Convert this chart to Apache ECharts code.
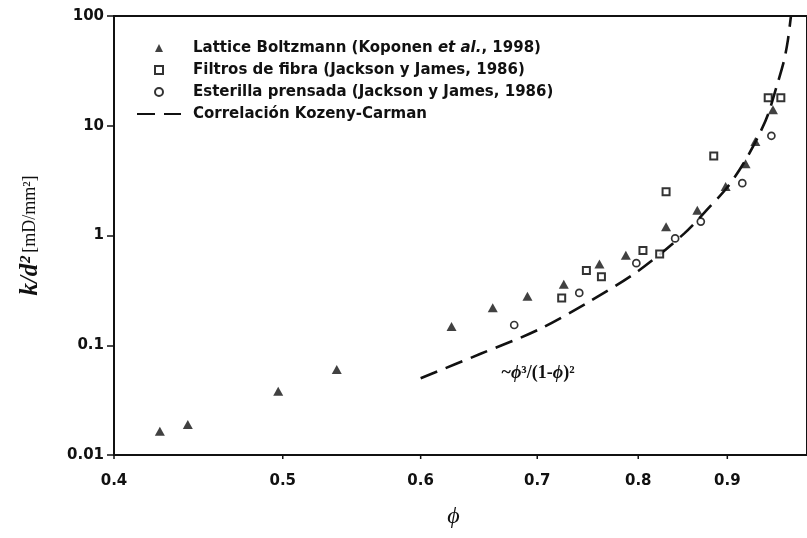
<!DOCTYPE html>
<html>
<head>
<meta charset="utf-8">
<script src="https://cdn.jsdelivr.net/npm/echarts@6.0.0/dist/echarts.min.js"></script>
<style>
  html, body { margin: 0; padding: 0; background: #fff; }
  #main { width: 807px; height: 538px; }
</style>
</head>
<body>
<div id="main"></div>
<script>
// Lattice Boltzmann (Koponen et al., 1998) - triangles
var lbPhi = [0.425, 0.441, 0.497, 0.537, 0.625, 0.660, 0.691, 0.725, 0.760, 0.787, 0.830, 0.865, 0.898, 0.922, 0.934, 0.956];
var lbK   = [0.0165, 0.019, 0.038, 0.060, 0.148, 0.22, 0.28, 0.36, 0.55, 0.66, 1.2, 1.7, 2.8, 4.5, 7.2, 14];

// Filtros de fibra - squares
var ffPhi = [0.723, 0.747, 0.762, 0.805, 0.823, 0.830, 0.884, 0.950, 0.966];
var ffK   = [0.27, 0.48, 0.42, 0.73, 0.68, 2.5, 5.3, 18, 18];

// Esterilla prensada - circles
var epPhi = [0.679, 0.740, 0.798, 0.840, 0.869, 0.918, 0.954];
var epK   = [0.153, 0.30, 0.56, 0.94, 1.34, 3.0, 8.1];

// Kozeny-Carman curve
var kcPhi = [0.60, 0.65, 0.70, 0.75, 0.80, 0.85, 0.88, 0.90, 0.92, 0.94, 0.95, 0.96, 0.97, 0.975, 0.979];
var kcK   = [0.050, 0.084, 0.137, 0.25, 0.475, 1.04, 1.85, 2.75, 4.6, 8.7, 12.8, 22, 39, 60, 100];

var xTicks = [0.4, 0.5, 0.6, 0.7, 0.8, 0.9];
var yTicks = [0.01, 0.1, 1, 10, 100];

var names = [
  'Lattice Boltzmann (Koponen et al., 1998)',
  'Filtros de fibra (Jackson y James, 1986)',
  'Esterilla prensada (Jackson y James, 1986)',
  'Correlación Kozeny-Carman'
];
var annoAt = [0.666, 0.056];

function pairs(xs, ys) {
  return xs.map(function (x, i) { return [x, ys[i]]; });
}

var ink = '#111';
var sans = 'DejaVu Sans';
var serif = 'Liberation Serif';

function legendText(padLeft) {
  return {
    color: ink, fontFamily: sans, fontWeight: 'bold', fontSize: 15, lineHeight: 16,
    padding: [0, 0, 0, padLeft],
    rich: { i: { fontStyle: 'italic', fontWeight: 'bold', fontFamily: sans, fontSize: 15, color: ink } }
  };
}

var myChart = echarts.init(document.getElementById('main'));
var option = {
  animation: false,
  backgroundColor: '#fff',
  grid: { left: 114, right: -7, top: 16, bottom: 83, show: true, borderColor: ink, borderWidth: 2 },
  legend: [
    {
      // markers
      orient: 'vertical', left: 154, top: 40, padding: 0,
      itemWidth: 8, itemHeight: 8, itemGap: 6,
      data: names.slice(0, 3),
      formatter: function (n) { return n.replace('et al.', '{i|et al.}'); },
      textStyle: legendText(25)
    },
    {
      // dashed line
      orient: 'vertical', left: 136, top: 106, padding: 0,
      itemWidth: 44, itemHeight: 8,
      data: names.slice(3),
      textStyle: legendText(7)
    }
  ],
  xAxis: {
    type: 'log', logBase: 10, min: 0.4, max: 1,
    name: 'ϕ', nameLocation: 'middle', nameGap: 50,
    nameTextStyle: { fontFamily: serif, fontStyle: 'italic', fontSize: 24, color: ink, padding: [0, 14, 0, 0] },
    axisLine: { lineStyle: { color: ink, width: 2 } },
    axisTick: { show: false },
    axisLabel: { show: false },
    splitLine: { show: false }
  },
  yAxis: {
    type: 'log', logBase: 10, min: yTicks[0], max: yTicks[yTicks.length - 1],
    name: '{k|k/d²} {u|[mD/mm²]}', nameLocation: 'middle', nameGap: 71, nameRotate: 90,
    nameTextStyle: {
      color: ink,
      rich: {
        k: { fontFamily: serif, fontStyle: 'italic', fontWeight: 'bold', fontSize: 25, color: ink },
        u: { fontFamily: serif, fontSize: 18, color: ink }
      }
    },
    axisLine: { show: true, lineStyle: { color: ink, width: 2 } },
    axisTick: { show: true, length: 7, lineStyle: { color: ink, width: 1.5 } },
    axisLabel: {
      margin: 10, color: ink, fontFamily: sans, fontWeight: 'bold', fontSize: 15,
      formatter: function (v) { return String(+v.toPrecision(3)); }
    },
    splitLine: { show: false },
    minorTick: { show: false }
  },
  series: [
    {
      name: names[0], type: 'scatter', symbol: 'triangle', symbolSize: [10, 9],
      itemStyle: { color: ink },
      data: pairs(lbPhi, lbK)
    },
    {
      name: names[1], type: 'scatter', symbol: 'rect', symbolSize: 7,
      itemStyle: { color: '#fff', borderColor: '#000', borderWidth: 2 },
      data: pairs(ffPhi, ffK)
    },
    {
      name: names[2], type: 'scatter', symbol: 'circle', symbolSize: 7,
      itemStyle: { color: '#fff', borderColor: '#000', borderWidth: 1.7 },
      data: pairs(epPhi, epK)
    },
    {
      name: names[3], type: 'line', smooth: 0.3,
      symbol: 'none', showSymbol: false,
      itemStyle: { color: 'rgba(0,0,0,0)' },
      lineStyle: { color: ink, width: 2.6, type: [18, 9] },
      data: pairs(kcPhi, kcK),
      z: 1
    }
  ]
};
myChart.setOption(option);

// tick labels of the log phi axis, placed through the axis scale
var gfx = [];
xTicks.forEach(function (t) {
  var p = myChart.convertToPixel({ gridIndex: 0 }, [t, yTicks[0]]);
  gfx.push({
    type: 'line', silent: true,
    shape: { x1: p[0], y1: p[1], x2: p[0], y2: p[1] + 4 },
    style: { stroke: ink, lineWidth: 1.5 }
  });
  gfx.push({
    type: 'text', silent: true, x: p[0], y: p[1] + 26,
    style: {
      text: t.toFixed(1), align: 'center', verticalAlign: 'middle',
      fill: ink, fontFamily: sans, fontWeight: 'bold', fontSize: 15
    }
  });
});
var a = myChart.convertToPixel({ gridIndex: 0 }, annoAt);
gfx.push({
  type: 'text', silent: true, x: a[0] + 2, y: a[1],
  style: {
    text: '{a|~}{p|ϕ}{a|³/(1-}{p|ϕ}{a|)²}',
    align: 'left', verticalAlign: 'middle',
    rich: {
      a: { fontFamily: serif, fontWeight: 'bold', fontSize: 18, fill: ink },
      p: { fontFamily: serif, fontStyle: 'italic', fontWeight: 'bold', fontSize: 18, fill: ink }
    }
  }
});
myChart.setOption({ graphic: gfx });
</script>
</body>
</html>
